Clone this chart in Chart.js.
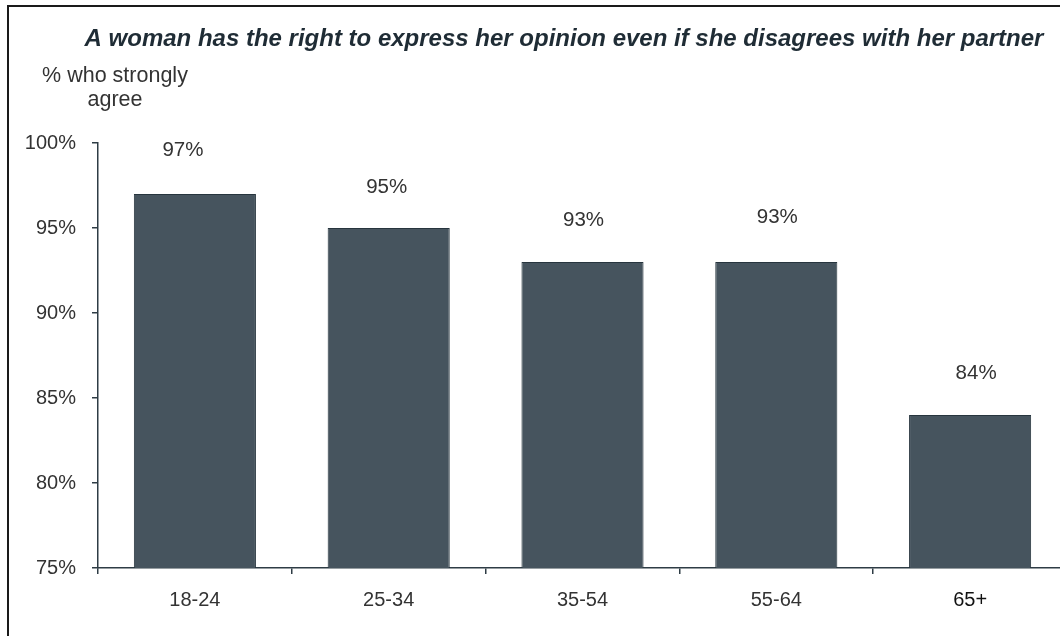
<!DOCTYPE html>
<html><head><meta charset="utf-8">
<script src="https://cdn.jsdelivr.net/npm/chart.js@4.4.1/dist/chart.umd.min.js"></script>
<style>
html,body{margin:0;padding:0;width:1060px;height:636px;overflow:hidden;background:#fff}
#frame{position:absolute;left:7px;top:5px;width:1100px;height:700px;border-left:2px solid #1a1a1a;border-top:2px solid #1a1a1a;}
canvas{position:absolute;left:0;top:0}
</style></head>
<body><div id="frame"></div><canvas id="c" width="1075" height="636"></canvas>
<script>
const categories = ['18-24', '25-34', '35-54', '55-64', '65+'];
const values = [97, 95, 93, 93, 84];
const yMin = 75, yMax = 100, yStep = 5;
const titleText = 'A woman has the right to express her opinion even if she disagrees with her partner';
const axisTitleLines = ['% who strongly', 'agree'];

const FONT = '"Liberation Sans", Arial, sans-serif';
const axisColor = '#2e3c45';

const textPlugin = {
  id: 'texts',
  afterDraw(chart, args, opts) {
    const ctx = chart.ctx;
    const nudges = opts.nudges || [];
    ctx.save();
    ctx.fillStyle = '#1f2c35';
    ctx.font = 'italic bold 24px ' + FONT;
    ctx.textAlign = 'center';
    ctx.textBaseline = 'alphabetic';
    ctx.fillText(titleText, 564, 46);
    ctx.fillStyle = '#333';
    ctx.font = '21.5px ' + FONT;
    ctx.fillText(axisTitleLines[0], 115, 82);
    ctx.fillText(axisTitleLines[1], 115, 106);
    const meta = chart.getDatasetMeta(0);
    ctx.font = '20.5px ' + FONT;
    ctx.textBaseline = 'middle';
    meta.data.forEach((b, i) => {
      const n = nudges[i] || [0, 0];
      ctx.fillText(values[i] + '%', b.x + n[0], b.y - 42 + n[1]);
    });
    ctx.restore();
  }
};

new Chart(document.getElementById('c'), {
  type: 'bar',
  data: {
    labels: categories,
    datasets: [{
      data: values,
      backgroundColor: '#46545e',
      borderColor: '#27353e',
      borderWidth: 1,
      barPercentage: 0.63,
      categoryPercentage: 1.0
    }]
  },
  options: {
    responsive: false,
    animation: false,
    devicePixelRatio: 1,
    layout: { padding: { left: 0, top: 143, right: 8, bottom: 0 } },
    plugins: {
      legend: { display: false }, tooltip: { enabled: false }, title: { display: false },
      texts: { nudges: [[-12, -2], [-2, 1], [1, 0], [1, -3], [6, 0]] }
    },
    scales: {
      x: {
        offset: true,
        grid: { display: true, offset: true, drawOnChartArea: false, drawTicks: true, tickLength: 6, color: axisColor, lineWidth: 1.5 },
        border: { display: true, color: axisColor, width: 1.5 },
        ticks: {
          padding: 14,
          font: { family: FONT, size: 20 },
          color: (c) => c.index === 4 ? '#111' : '#333'
        },
        afterFit(scale) { scale.height = 68; }
      },
      y: {
        min: yMin, max: yMax,
        grid: { display: true, drawOnChartArea: false, drawTicks: true, tickLength: 6, color: axisColor, lineWidth: 1.5 },
        border: { display: true, color: axisColor, width: 1.5 },
        ticks: {
          stepSize: yStep,
          padding: 16,
          font: { family: FONT, size: 20 },
          color: '#333',
          callback: (v) => v + '%'
        },
        afterFit(scale) { scale.width = 98; }
      }
    }
  },
  plugins: [textPlugin]
});
</script>
</body></html>
